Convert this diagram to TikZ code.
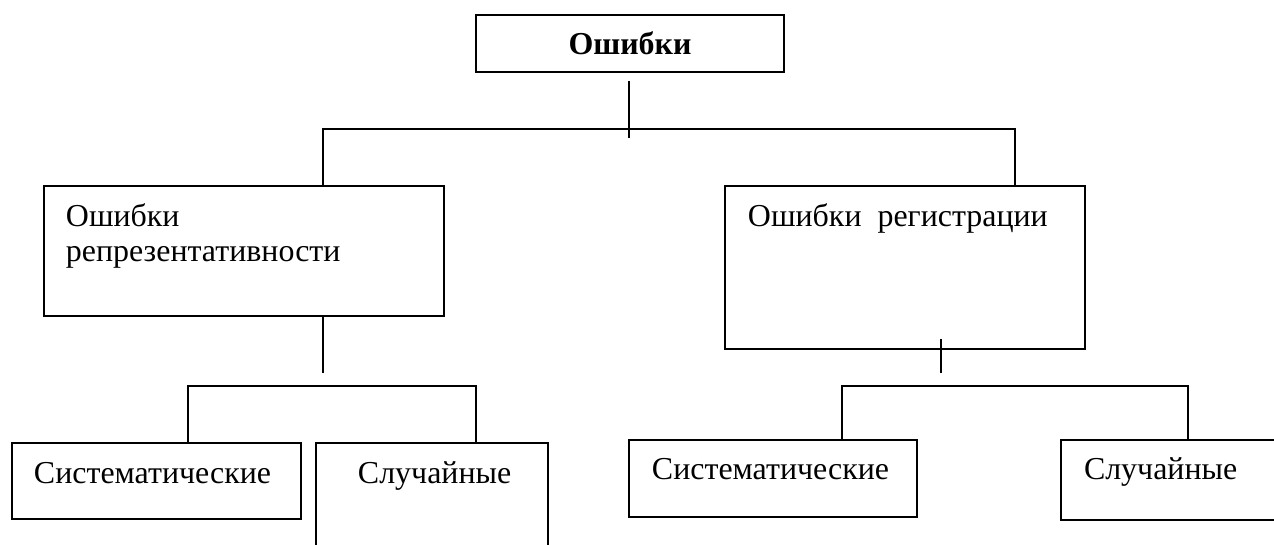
\documentclass[tikz,border=0pt]{standalone}
\usepackage{fontspec}
\setmainfont{Liberation Serif}
\usetikzlibrary{fit,calc,positioning}
\begin{document}
\begin{tikzpicture}[x=0.382pt,y=-0.382pt,line width=0.75pt,
		box/.style={draw,line width=0.75pt,inner sep=0pt},
		txt/.style={anchor=base west,inner sep=0pt,font=\fontsize{12.2}{14}\selectfont}]
		\useasboundingbox[fill=white] (0,0) rectangle (1274,545);
		\clip (0,0) rectangle (1274,545);
		\node[box,fit={(476,15) (784,72)}] (err) {};
		\node[inner sep=0pt,font=\fontsize{12.2}{14}\selectfont\bfseries] (errT) at (err.center) {Ошибки};
		\node[box,fit={(44,186) (444,316)}] (repr) {};
		\node[box,fit={(725,186) (1085,349)}] (reg) {};
		\node[box,fit={(12,443) (301,519)}] (sysL) {};
		\node[box,fit={(316,443) (548,570)}] (rndL) {};
		\node[box,fit={(629,440) (917,517)}] (sysR) {};
		\node[box,fit={(1061,440) (1300,520)}] (rndR) {};
		\node[txt] (reprT) at (65,227) {Ошибки};
		\node[txt] (reprT2) at (65,262) {репрезентативности};
		\node[txt] (regT) at (747,227) {Ошибки~\ регистрации};
		\node[txt] (sysLT) at (33,484) {Систематические};
		\node[txt] (rndLT) at (357,484) {Случайные};
		\node[txt] (sysRT) at (651,480) {Систематические};
		\node[txt] (rndRT) at (1083,480) {Случайные};
		\coordinate (topL) at (323,129);
		\coordinate (topR) at (1015,129);
		\coordinate (midL1) at (188,386);
		\coordinate (midL2) at (476,386);
		\coordinate (midR1) at (842,386);
		\coordinate (midR2) at (1188,386);
		\coordinate (regDrop) at (941,339);
		\draw ($(err.south)+(-1,8)$) -- ($(err.south)+(-1,65)$);
		\draw (topL |- repr.north) -- (topL) -- (topR) -- (topR |- reg.north);
		\draw (repr.south -| topL) -- ++(0,56);
		\draw (sysL.north -| midL1) -- (midL1) -- (midL2) -- (rndL.north -| midL2);
		\draw (regDrop) -- ++(0,34);
		\draw (sysR.north -| midR1) -- (midR1) -- (midR2) -- (rndR.north -| midR2);
	\end{tikzpicture}
\end{document}
